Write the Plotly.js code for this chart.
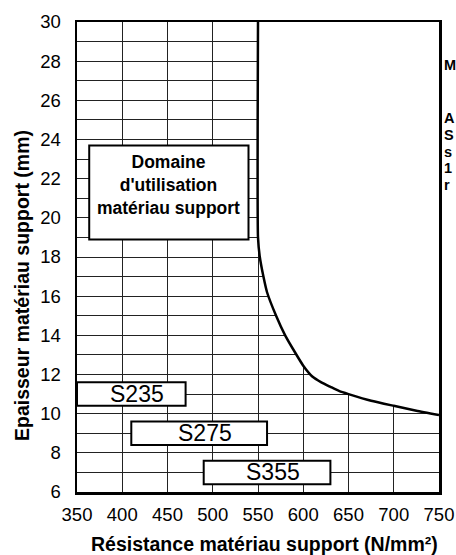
<!DOCTYPE html>
<html><head><meta charset="utf-8">
<script src="https://cdn.plot.ly/plotly-3.0.1.min.js"></script>
<style>html,body{margin:0;padding:0;background:#fff;}#chart{width:456px;height:555px;}</style>
</head><body><div id="chart"></div>
<script>
// Limit curve of the usable domain
const curveX = [550, 550, 552, 556, 560, 570, 580, 590, 600, 610, 620, 630, 640, 650, 675, 700, 725, 750];
const curveY = [30, 19, 18, 17, 16.2, 15, 14, 13.2, 12.45, 11.9, 11.6, 11.37, 11.15, 11.0, 10.66, 10.4, 10.15, 9.93];

// Steel grades: strength range and thickness band
const gradeNames = ['S235', 'S275', 'S355'];
const gradeXmin = [350, 410, 490];
const gradeXmax = [470, 560, 630];
const gradeYmin = [10.4, 8.4, 6.4];
const gradeYmax = [11.6, 9.6, 7.6];

const domainLabel = 'Domaine<br>d\'utilisation<br>matériau support';
const sideLetters = ['M', 'A', 'S', 's', '1', 'r'];

const xTitle = 'Résistance matériau support (N/mm²)';
const yTitle = 'Epaisseur matériau support (mm)';

const SANS = '"Liberation Sans", Arial, sans-serif';

// pixel helpers for the plot frame (77..439 x 22..492)
const L = 77, R = 439, T = 22, B = 492;
const px = v => (v - L) / (R - L);
const py = v => 1 - (v - T) / (B - T);

const traces = [
  {
    x: curveX.concat([750]), y: curveY.concat([30]),
    mode: 'lines', fill: 'toself', fillcolor: '#ffffff',
    line: {width: 0, color: 'rgba(0,0,0,0)'}, hoverinfo: 'skip', showlegend: false
  },
  {
    x: curveX, y: curveY, mode: 'lines',
    line: {color: '#000', width: 2.5, shape: 'spline', smoothing: 0.5},
    showlegend: false
  }
];

const shapes = [];
const annotations = [];
gradeNames.forEach((n, i) => {
  shapes.push({type: 'rect', xref: 'x', yref: 'y', x0: gradeXmin[i], x1: gradeXmax[i],
    y0: gradeYmin[i], y1: gradeYmax[i], fillcolor: '#fff', line: {color: '#000', width: 2}, layer: 'above'});
  annotations.push({x: (gradeXmin[i] + gradeXmax[i]) / 2, y: (gradeYmin[i] + gradeYmax[i]) / 2,
    xref: 'x', yref: 'y', xshift: 6, text: n, showarrow: false, font: {family: SANS, size: 23, color: '#000'}});
});
shapes.push({type: 'rect', xref: 'x', yref: 'y', x0: 363.5, x1: 539.5, y0: 18.9, y1: 23.7,
  fillcolor: '#fff', line: {color: '#000', width: 2}, layer: 'above'});
annotations.push({x: 451.5, y: 21.7, xref: 'x', yref: 'y', text: '<b>' + domainLabel + '</b>',
  showarrow: false, font: {family: SANS, size: 17.5, color: '#000'}, align: 'center'});

const sideY = [65, 118, 135, 152, 168, 185];
sideLetters.forEach((t, i) => {
  annotations.push({xref: 'paper', yref: 'paper', x: px(442), y: py(sideY[i]),
    xanchor: 'left', yanchor: 'middle', text: '<b>' + t + '</b>', showarrow: false,
    font: {family: SANS, size: 14.5, color: '#000'}});
});

// axis titles
annotations.push({xref: 'paper', yref: 'paper', x: px(264), y: py(544), xanchor: 'center', yanchor: 'middle',
  text: '<b>' + xTitle + '</b>', showarrow: false, font: {family: SANS, size: 19.5, color: '#000'}});
annotations.push({xref: 'paper', yref: 'paper', x: px(22), y: py(286), xanchor: 'center', yanchor: 'middle',
  textangle: -90, text: '<b>' + yTitle + '</b>', showarrow: false, font: {family: SANS, size: 19.5, color: '#000'}});

const layout = {
  width: 456, height: 555,
  margin: {l: L, r: 456 - R, t: T, b: 555 - B},
  paper_bgcolor: '#fff', plot_bgcolor: '#fff',
  showlegend: false,
  xaxis: {
    range: [350, 750], tickvals: [350, 400, 450, 500, 550, 600, 650, 700, 750],
    showgrid: true, gridcolor: '#222', gridwidth: 1, zeroline: false,
    showline: true, mirror: true, linecolor: '#000', linewidth: 2.5,
    ticks: '', ticklabelstandoff: 4, tickfont: {family: SANS, size: 18.5, color: '#000'}
  },
  yaxis: {
    range: [6, 30], dtick: 2, tick0: 6,
    showgrid: true, gridcolor: '#222', gridwidth: 1, zeroline: false,
    minor: {dtick: 1, showgrid: true, gridcolor: '#222', gridwidth: 1},
    showline: true, mirror: true, linecolor: '#000', linewidth: 2.5,
    ticks: '', ticklabelstandoff: 10, tickfont: {family: SANS, size: 18.5, color: '#000'}
  },
  shapes: shapes,
  annotations: annotations
};

Plotly.newPlot('chart', traces, layout, {displayModeBar: false, staticPlot: true});
</script>
</body></html>
